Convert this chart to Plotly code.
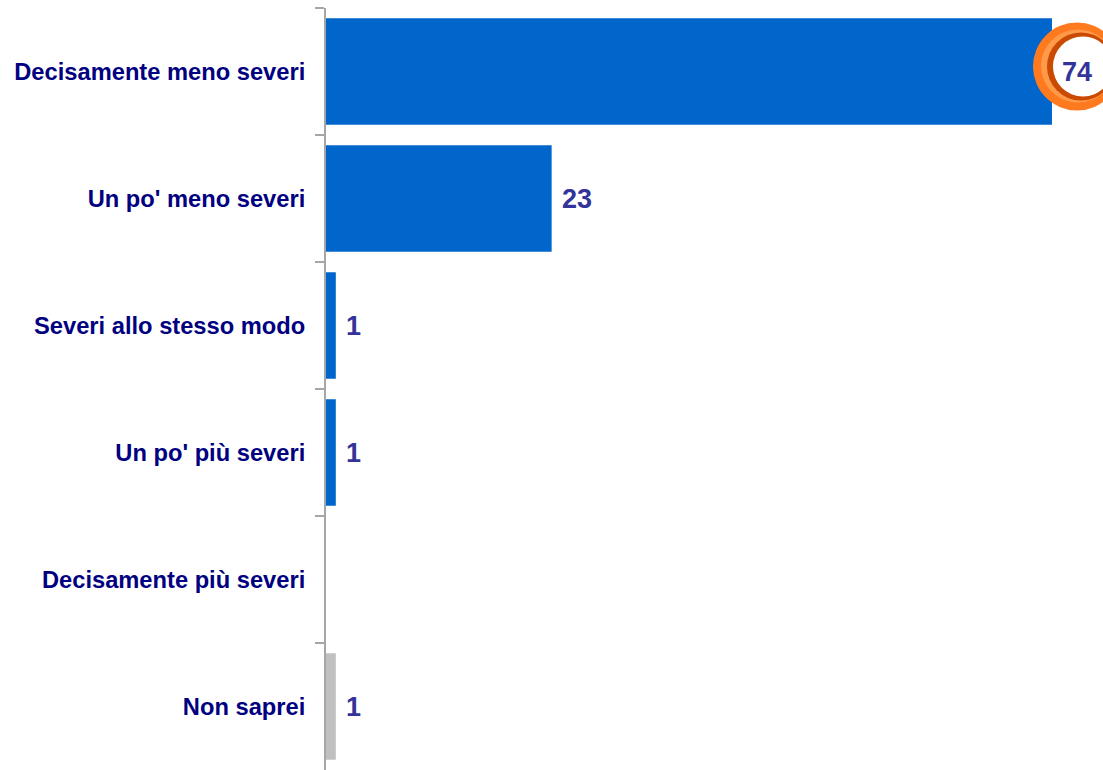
import plotly.graph_objects as go

categories = ["Decisamente meno severi", "Un po' meno severi", "Severi allo stesso modo",
              "Un po' più severi", "Decisamente più severi", "Non saprei"]
values = [74, 23, 1, 1, 0, 1]
bar_colors = ["#0066CC", "#0066CC", "#0066CC", "#0066CC", "#0066CC", "#C0C0C0"]
highlight_index = 0

FONT = "Liberation Sans, Arial, sans-serif"

fig = go.Figure()
fig.add_trace(go.Bar(
    x=values, y=categories, orientation="h",
    marker=dict(color=bar_colors, line=dict(width=0)),
    hoverinfo="skip",
))

annotations = []
for cat, v in zip(categories, values):
    if v <= 0:
        continue
    annotations.append(dict(
        x=v, y=cat, xref="x", yref="y", text=str(v), showarrow=False,
        xanchor="left", yanchor="middle", xshift=8,
        font=dict(family=FONT, size=27, color="#333399", weight="bold"),
    ))

hv = values[highlight_index]
shapes = [
    dict(type="circle", xref="x", yref="y", xsizemode="pixel", ysizemode="pixel",
         xanchor=hv, yanchor=highlight_index, x0=-19, x1=69, y0=-39, y1=49,
         fillcolor="#FF7A1F", line=dict(width=0), layer="above"),
    dict(type="circle", xref="x", yref="y", xsizemode="pixel", ysizemode="pixel",
         xanchor=hv, yanchor=highlight_index, x0=-11, x1=63, y0=-31, y1=42,
         fillcolor="#FF9A4A", line=dict(width=0), layer="above"),
    dict(type="circle", xref="x", yref="y", xsizemode="pixel", ysizemode="pixel",
         xanchor=hv, yanchor=highlight_index, x0=-5, x1=63, y0=-29, y1=39,
         fillcolor="#C94A00", line=dict(width=0), layer="above"),
    dict(type="circle", xref="x", yref="y", xsizemode="pixel", ysizemode="pixel",
         xanchor=hv, yanchor=highlight_index, x0=1, x1=61, y0=-25, y1=35,
         fillcolor="#FFFFFF", line=dict(width=0), layer="above"),
]

fig.update_layout(
    width=1103, height=770,
    margin=dict(l=326, r=0, t=8, b=0),
    paper_bgcolor="white", plot_bgcolor="white",
    showlegend=False, bargap=0.16,
    annotations=annotations, shapes=shapes,
    xaxis=dict(range=[0, 79.2], visible=False, fixedrange=True),
    yaxis=dict(
        type="category", categoryorder="array", categoryarray=categories,
        autorange="reversed", tickson="boundaries", fixedrange=True,
        ticks="outside", ticklen=9, tickwidth=2, tickcolor="#A6A6A6",
        showline=True, linecolor="#A6A6A6", linewidth=2,
        showgrid=False, zeroline=False, ticklabelstandoff=14,
        tickfont=dict(family=FONT, size=23.7, color="#000080", weight="bold"),
    ),
)

fig.write_html(
    "out.html",
    config={"displayModeBar": False},
    post_script="document.body.style.margin='0';document.body.style.overflow='hidden';",
)
